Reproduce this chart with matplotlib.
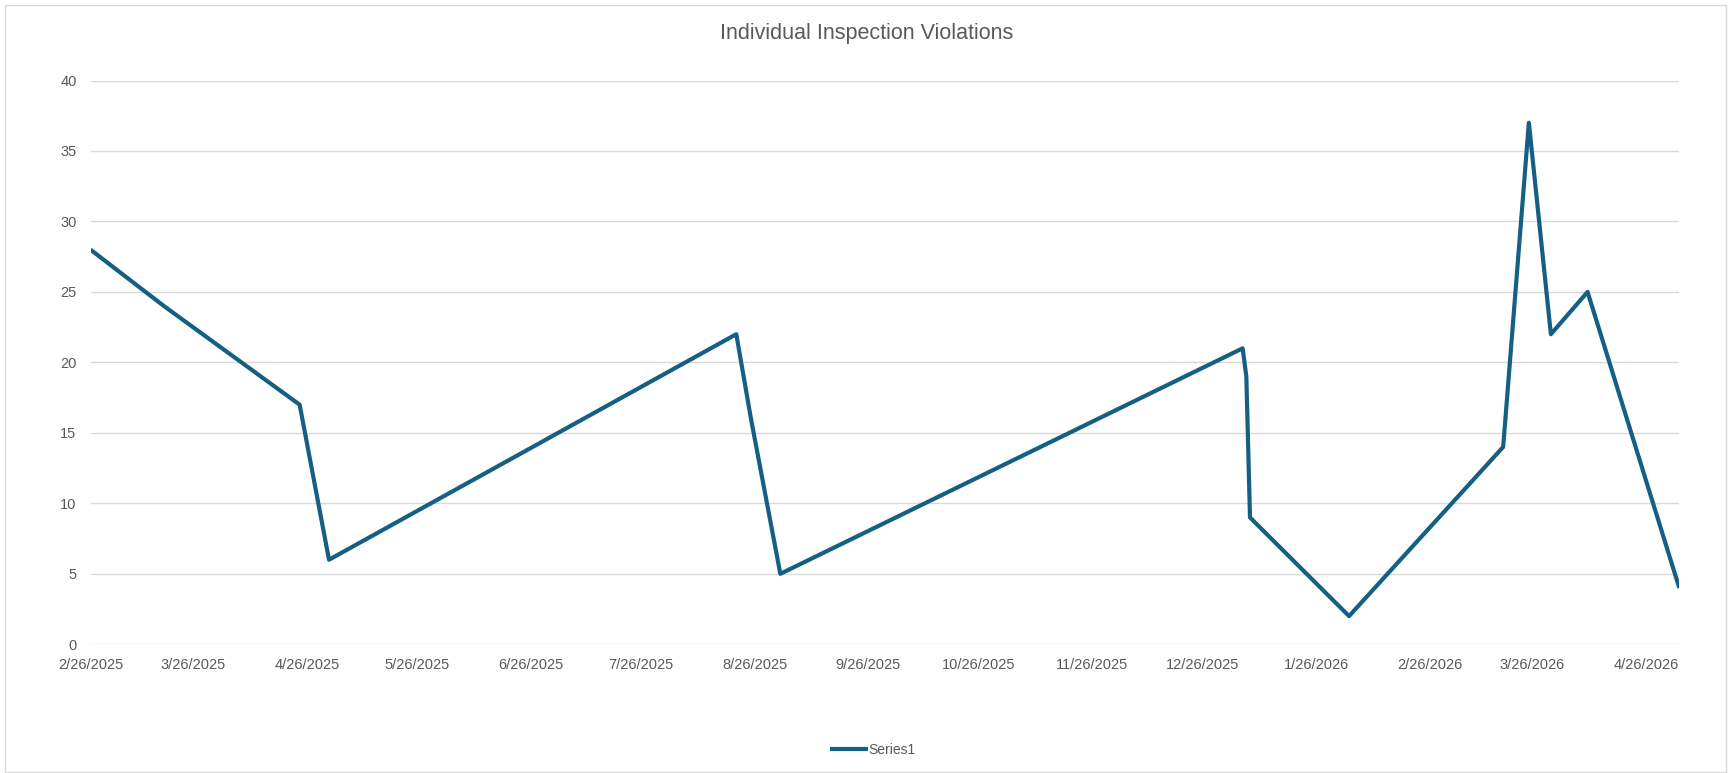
import pandas as pd
import matplotlib.pyplot as plt
import matplotlib.dates as mdates
from matplotlib.ticker import FuncFormatter
from matplotlib.patches import Rectangle

# Inspection dates and violation counts
dates = ['2025-02-26', '2025-03-18', '2025-04-24', '2025-05-02', '2025-08-21',
         '2025-08-25', '2025-09-02', '2026-01-06', '2026-01-07', '2026-01-08',
         '2026-02-04', '2026-03-18', '2026-03-25', '2026-03-31',
         '2026-04-10', '2026-05-05']
violations = [28, 24, 17, 6, 22, 16, 5, 21, 19, 9, 2, 14, 37, 22, 25, 4]
y_ticks = [0, 5, 10, 15, 20, 25, 30, 35, 40]

data = pd.DataFrame({'Date': pd.to_datetime(dates), 'Violations': violations})

plt.rcParams['font.family'] = ['Liberation Sans', 'DejaVu Sans']

W, H = 1729, 773
fig = plt.figure(figsize=(W / 100, H / 100), dpi=100)
ax = fig.add_axes([90.5 / W, 1 - 644.3 / H, (1679.3 - 90.5) / W, (644.3 - 80.5) / H])

ax.plot(data['Date'], data['Violations'], color='#156082', lw=3.0,
        solid_joinstyle='round', solid_capstyle='butt', label='Series1')

# Axes styling
ax.set_ylim(0, 40)
ax.set_yticks(y_ticks)
ax.set_xlim(data['Date'].iloc[0], data['Date'].iloc[-1])
ax.xaxis.set_major_locator(mdates.MonthLocator(bymonthday=26))
ax.xaxis.set_major_formatter(FuncFormatter(
    lambda v, pos: '{d.month}/{d.day}/{d.year}'.format(d=mdates.num2date(v))))
ax.grid(axis='y', color='#D9D9D9', lw=1.0)
ax.set_axisbelow(True)
for s in ax.spines.values():
    s.set_visible(False)
ax.tick_params(length=0, labelsize=10.5, labelcolor='#595959')
ax.tick_params(axis='y', pad=10)
ax.tick_params(axis='x', pad=10)

fig.text(867 / W, 1 - 34 / H, 'Individual Inspection Violations', ha='center', va='center',
         fontsize=15.5, color='#595959')

fig.legend(loc='center', bbox_to_anchor=(873 / W, 1 - 750 / H), frameon=False,
           fontsize=10, handlelength=2.7, handletextpad=0.05, labelcolor='#595959')

# Chart border
fig.patches.append(Rectangle((5 / W, 1 / H), (1726 - 5) / W, (772 - 5) / H,
                             transform=fig.transFigure, fill=False,
                             edgecolor='#D9D9D9', lw=1.0))

plt.savefig('out.png', dpi=100)
